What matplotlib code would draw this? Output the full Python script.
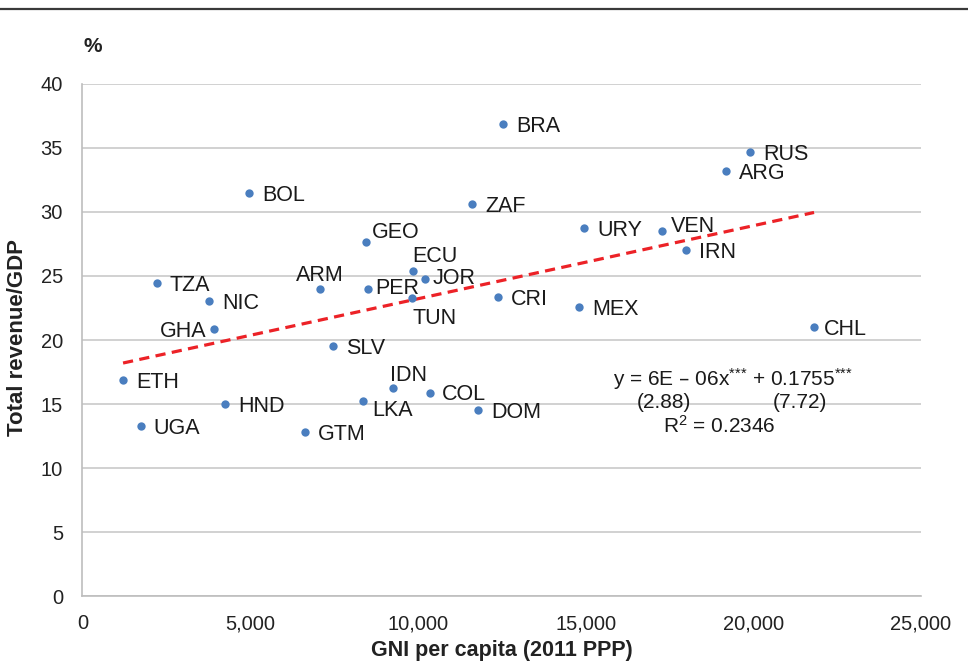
import numpy as np
import matplotlib
matplotlib.use("Agg")
import matplotlib.pyplot as plt
from matplotlib.lines import Line2D

plt.rcParams['font.family'] = ['Liberation Sans', 'DejaVu Sans']
plt.rcParams['mathtext.default'] = 'regular'

# country codes, GNI per capita (2011 PPP) and total revenue / GDP (%)
countries = ['ETH', 'UGA', 'TZA', 'NIC', 'GHA', 'HND', 'BOL', 'GTM', 'SLV', 'ARM',
             'GEO', 'PER', 'LKA', 'IDN', 'ECU', 'TUN', 'JOR', 'COL', 'DOM', 'CRI',
             'ZAF', 'BRA', 'URY', 'MEX', 'VEN', 'IRN', 'ARG', 'RUS', 'CHL']
gni = [1210, 1740, 2220, 3770, 3920, 4250, 4970, 6630, 7470, 7080,
       8450, 8510, 8360, 9260, 9850, 9820, 10210, 10360, 11790, 12390,
       11610, 12540, 14950, 14800, 17280, 17990, 19190, 19900, 21810]
revenue = [16.9, 13.3, 24.45, 23.05, 20.86, 15.0, 31.5, 12.8, 19.5, 24.0,
           27.66, 24.0, 15.23, 16.25, 25.4, 23.3, 24.77, 15.86, 14.53, 23.36,
           30.6, 36.9, 28.75, 22.58, 28.5, 27.0, 33.2, 34.7, 21.0]

# fitted trend line (percent)
trend_slope = 0.000571
trend_intercept = 17.51

# label placement: (dx, dy) in pixels, horizontal alignment
label_pos = {
    'ARM': (0, 16, 'center'), 'ECU': (-1, 17, 'left'), 'IDN': (-3, 15, 'left'),
    'GHA': (-7, 0, 'right'), 'TUN': (1, -18, 'left'), 'LKA': (9, -7, 'left'),
    'VEN': (9, 7, 'left'), 'PER': (7, 3, 'left'), 'JOR': (8, 3, 'left'),
    'COL': (12, 1, 'left'), 'GEO': (6, 12, 'left'), 'CHL': (10, 0, 'left'),
}

fig = plt.figure(figsize=(9.68, 6.64), dpi=100)
ax = fig.add_axes([0.0852, 0.1024, 0.8663, 0.7711])

ax.set_xlim(0, 25000)
ax.set_ylim(0, 40)
ax.set_yticks(np.arange(0, 41, 5))
ax.set_xticks(np.arange(0, 25001, 5000))
ax.set_xticklabels([f'{v:,}' for v in range(0, 25001, 5000)])
ax.grid(axis='y', color='#c9c9c9', lw=1.2)
ax.set_axisbelow(True)
for s in ['top', 'right']:
    ax.spines[s].set_visible(False)
for s in ['left', 'bottom']:
    ax.spines[s].set_color('#bdbdbd')
    ax.spines[s].set_linewidth(1.2)
ax.tick_params(length=0, labelsize=14.5, colors='#222222')
ax.tick_params(axis='y', pad=14)
ax.tick_params(axis='x', pad=13)

tx = np.array([min(gni), max(gni)])
ax.plot(tx, trend_intercept + trend_slope * tx, color='#ec2227', lw=2.3,
        dashes=(3.2, 2), zorder=2)

ax.scatter(gni, revenue, s=36, color='#4a7ebf', zorder=3, linewidths=0)

for c, x, y in zip(countries, gni, revenue):
    dx, dy, ha = label_pos.get(c, (13, 0, 'left'))
    ax.annotate(c, (x, y), xytext=(dx, dy - 2.5), textcoords='offset pixels',
                ha=ha, va='center', fontsize=15.5, color='#1a1a1a', zorder=4)

ax.text(19400, 16.95, r'y = 6E – 06x$^{{*}{*}{*}}$ + 0.1755$^{{*}{*}{*}}$', ha='center',
        va='center', fontsize=15, color='#1a1a1a')
ax.text(17320, 15.1, '(2.88)', ha='center', va='center', fontsize=15, color='#1a1a1a')
ax.text(21390, 15.1, '(7.72)', ha='center', va='center', fontsize=15, color='#1a1a1a')
ax.text(18980, 13.3, r'R$^{2}$ = 0.2346', ha='center', va='center', fontsize=15, color='#1a1a1a')

ax.set_xlabel('GNI per capita (2011 PPP)', fontsize=15.5, fontweight='bold', color='#222222',
              labelpad=5)
fig.text(18 / 968, 1 - 337 / 664, 'Total revenue/GDP', rotation=90, ha='center', va='center',
         fontsize=16, fontweight='bold', color='#222222')
fig.text(93 / 968, 1 - 47 / 664, '%', ha='center', va='center', fontsize=15,
         fontweight='bold', color='#222222')

fig.add_artist(Line2D([0, 1], [1 - 9 / 664] * 2, color='#3a3a3a', lw=1.6))

fig.savefig('out.png', dpi=100)
